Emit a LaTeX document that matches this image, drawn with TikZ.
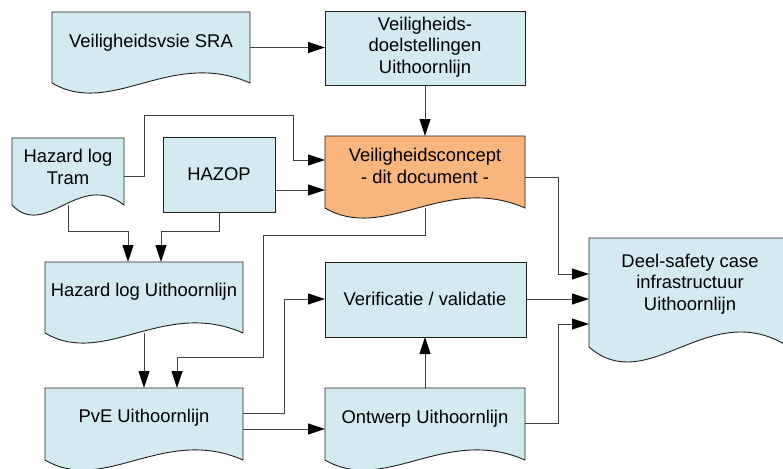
\documentclass[tikz,border=0pt]{standalone}
\usepackage{fontspec}
\setmainfont{Liberation Sans}
\usetikzlibrary{arrows.meta,calc}
\definecolor{boxblue}{HTML}{D2EAF0}
\definecolor{boxorange}{HTML}{F8B57E}
\definecolor{linegray}{HTML}{404040}
\definecolor{edgegray}{HTML}{202020}
\newcommand{\docshape}[3]{%
  \path[boxline,fill=#3] (#1.north west) -- (#1.north east) -- (#1.south east)
    .. controls ($(#1.south east)!0.4!(#1.south west)+(0,-#2)$) and ($(#1.south east)!0.7!(#1.south west)+(0,#2)$) .. (#1.south west) -- cycle;}
\newcommand{\rectshape}[2]{%
  \path[boxline,fill=#2] (#1.north west) rectangle (#1.south east);}
\tikzset{
  shp/.style={draw=none,fill=none,inner sep=0pt,outer sep=0pt,rectangle},
  boxline/.style={draw=edgegray,line width=0.9pt},
  conn/.style={draw=linegray,line width=0.9pt,-{Triangle[length=17pt,width=11pt,color=black]}},
  txt/.style={align=center,inner sep=0pt,font=\fontsize{18.4}{21.7}\selectfont}
}
\begin{document}
\begin{tikzpicture}[x=1pt,y=-1pt]
\useasboundingbox (0,0) rectangle (783,468);
\clip (0,0) rectangle (783,468);
% shape placeholders
\node[shp,minimum width=198pt,minimum height=71pt] (sra) at (151,47.5) {};
\node[shp,minimum width=200pt,minimum height=74pt] (doel) at (425,48) {};
\node[shp,minimum width=112pt,minimum height=67pt] (tram) at (68,171.5) {};
\node[shp,minimum width=112pt,minimum height=75pt] (hazop) at (219,174.5) {};
\node[shp,minimum width=200pt,minimum height=72pt] (concept) at (425,172) {};
\node[shp,minimum width=198pt,minimum height=71pt] (hlu) at (144,297.5) {};
\node[shp,minimum width=201pt,minimum height=75pt] (verif) at (425.5,299.5) {};
\node[shp,minimum width=198pt,minimum height=72pt] (pve) at (144,424) {};
\node[shp,minimum width=200pt,minimum height=72pt] (ontw) at (425,424) {};
\node[shp,minimum width=200pt,minimum height=109pt] (deel) at (689,292.5) {};
% connectors
\draw[conn] (sra.east) -- (doel.west |- sra.east);
\draw[conn] (doel.south) -- (concept.north);
\draw[conn] ($(tram.east)+(0,5)$) -- (144,176.5) -- (144,115) -- (293,115) -- (293,160) -- (concept.west |- 0,160);
\draw[conn] ($(hazop.east)+(0,15.5)$) -- (concept.west |- 0,190);
\draw[conn] (tram.south) -- (68,231) -- (128,231) -- (hlu.north west -| 128,0);
\draw[conn] (hazop.south) -- (219,231) -- (161,231) -- (hlu.north west -| 161,0);
\draw[conn] (hlu.south) -- (pve.north);
\draw[conn] (concept.south) -- (425,235) -- (263,235) -- (263,357) -- (177,357) -- (pve.north west -| 177,0);
\draw[conn] ($(concept.east)+(0,5.5)$) -- (558,177.5) -- (558,274) -- (deel.west |- 0,274);
\draw[conn] ($(pve.east)+(0,-11)$) -- (284,413) -- (284,299) -- (verif.west |- 0,299);
\draw[conn] ($(pve.east)+(0,5)$) -- (ontw.west |- 0,429);
\draw[conn] (ontw.north) -- (verif.south -| ontw.north);
\draw[conn] (verif.east |- 0,299) -- (deel.west |- 0,299);
\draw[conn] ($(ontw.east)+(0,-1)$) -- (558,423) -- (558,324) -- (deel.west |- 0,324);
% shapes
\docshape{sra}{35}{boxblue}
\rectshape{doel}{boxblue}
\docshape{tram}{35}{boxblue}
\rectshape{hazop}{boxblue}
\docshape{concept}{35}{boxorange}
\docshape{hlu}{35}{boxblue}
\rectshape{verif}{boxblue}
\docshape{pve}{35}{boxblue}
\docshape{ontw}{35}{boxblue}
\docshape{deel}{52}{boxblue}
% texts
\node[txt] (sraT) at (151,43) {Veiligheidsvsie SRA};
\node[txt] (doelT) at (425,47) {Veiligheids-\\doelstellingen\\Uithoornlijn};
\node[txt] (tramT) at (68,167) {Hazard log\\Tram};
\node[txt] (hazopT) at (219,174.5) {HAZOP};
\node[txt] (conceptT) at (425,166) {Veiligheidsconcept\\- dit document -};
\node[txt] (hluT) at (144,292) {Hazard log Uithoornlijn};
\node[txt] (verifT) at (425,299) {Verificatie / validatie};
\node[txt] (pveT) at (144,418) {PvE Uithoornlijn};
\node[txt] (ontwT) at (425,419) {Ontwerp Uithoornlijn};
\node[txt] (deelT) at (690,284) {Deel-safety case\\infrastructuur\\Uithoornlijn};
\end{tikzpicture}
\end{document}
